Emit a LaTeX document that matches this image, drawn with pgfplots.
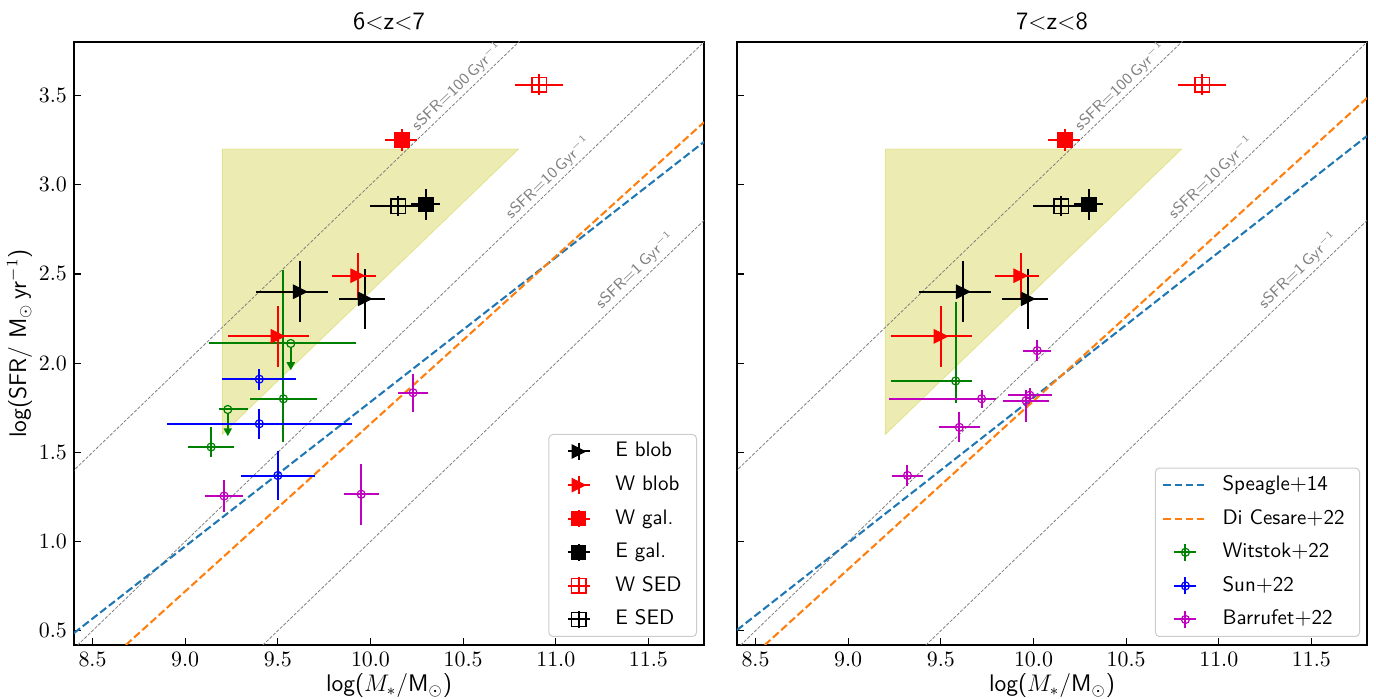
\documentclass[border=0pt]{standalone}
\usepackage{pgfplots}
\usepackage{pgfplotstable}
\pgfplotsset{compat=1.18}
\usetikzlibrary{arrows.meta}

\definecolor{tabblue}{HTML}{1F77B4}
\definecolor{taborange}{HTML}{FF7F0E}
\definecolor{mplg}{rgb}{0,0.5,0}
\definecolor{mplm}{rgb}{0.75,0,0.75}
\definecolor{mply}{rgb}{0.75,0.75,0}

\pgfdeclareplotmark{rtri}{%
  \pgfpathmoveto{\pgfqpoint{\pgfplotmarksize}{0pt}}%
  \pgfpathlineto{\pgfqpoint{-\pgfplotmarksize}{\pgfplotmarksize}}%
  \pgfpathlineto{\pgfqpoint{-\pgfplotmarksize}{-\pgfplotmarksize}}%
  \pgfpathclose
  \pgfusepathqfillstroke}

% ---------------- data ----------------
\pgfplotstableread{
x y exm exp eym eyp
9.62 2.40 0.24 0.15 0.17 0.17
9.97 2.36 0.14 0.11 0.17 0.17
}\Eblob
\pgfplotstableread{
x y exm exp eym eyp
9.93 2.49 0.135 0.10 0.125 0.125
9.50 2.15 0.27 0.17 0.17 0.17
}\Wblob
\pgfplotstableread{
x y exm exp eym eyp
10.17 3.25 0.09 0.08 0.063 0.063
}\Wgal
\pgfplotstableread{
x y exm exp eym eyp
10.30 2.89 0.08 0.075 0.087 0.087
}\Egal
\pgfplotstableread{
x y exm exp eym eyp
10.91 3.56 0.13 0.13 0.058 0.058
}\Wsed
\pgfplotstableread{
x y exm exp eym eyp
10.15 2.88 0.15 0.117 0.056 0.056
}\Esed
% Witstok+22, z=6-7 (detections)
\pgfplotstableread{
x y exm exp eym eyp
9.53 1.80 0.18 0.18 0.24 0.72
9.14 1.53 0.126 0.126 0.054 0.11
}\WitA
% Witstok+22, z=6-7 (upper limits)
\pgfplotstableread{
x y exm exp
9.57 2.11 0.44 0.35
9.23 1.74 0.047 0.108
}\WitU
% arrows of the upper limits (start at the bottom of the circle)
\pgfplotstableread{
x y u v
9.57 2.088 0 -0.128
9.23 1.718 0 -0.128
}\WitUarr
% Witstok+22, z=7-8
\pgfplotstableread{
x y exm exp eym eyp
9.58 1.90 0.35 0.09 0.125 0.44
}\WitB
% Sun+22
\pgfplotstableread{
x y exm exp eym eyp
9.40 1.91 0.20 0.20 0.058 0.058
9.40 1.66 0.50 0.50 0.084 0.084
9.50 1.37 0.20 0.20 0.135 0.135
}\Sun
% Barrufet+22, z=6-7
\pgfplotstableread{
x y exm exp eym eyp
9.21 1.255 0.104 0.104 0.09 0.09
9.95 1.265 0.094 0.094 0.17 0.17
10.23 1.834 0.082 0.082 0.107 0.107
}\BarA
% Barrufet+22, z=7-8
\pgfplotstableread{
x y exm exp eym eyp
10.02 2.07 0.076 0.076 0.058 0.058
9.72 1.80 0.50 0.08 0.05 0.05
9.98 1.82 0.12 0.12 0.04 0.04
9.96 1.79 0.125 0.125 0.12 0.06
9.60 1.64 0.11 0.11 0.084 0.084
9.32 1.37 0.086 0.086 0.058 0.058
}\BarB

\tikzset{slab/.style={rotate=43.9, text=gray, font=\sffamily\fontsize{7.8}{9}\selectfont, inner sep=0pt}}

\pgfplotsset{
  ebleg/.style={legend image code/.code={%
     \path (0pt,0pt) (22pt,0pt);
     \draw[##1, line width=1pt] (5.5pt,0pt) -- (16.5pt,0pt) (11pt,-4.3pt) -- (11pt,4.3pt);
     \draw[##1] plot coordinates {(11pt,0pt)};}},
  lineleg/.style={legend image code/.code={%
     \draw[##1] (0pt,0pt) -- (22pt,0pt);}},
  ebar/.style={only marks, ebleg,
     /pgfplots/error bars/x dir=both, /pgfplots/error bars/x explicit,
     /pgfplots/error bars/y dir=both, /pgfplots/error bars/y explicit,
     /pgfplots/error bars/error mark=none,
     /pgfplots/error bars/error bar style={line width=1pt, solid}},
  lit/.style={ebar, mark=o, mark size=2pt, line width=0.6pt},
  base/.style={width=315pt, height=301.5pt, scale only axis,
    xmin=8.4, xmax=11.8, ymin=0.42, ymax=3.8,
    xtick={8.5,9,9.5,10,10.5,11,11.5},
    ytick={0.5,1,1.5,2,2.5,3,3.5},
    xticklabel style={/pgf/number format/.cd,fixed,fixed zerofill,precision=1},
    yticklabel style={/pgf/number format/.cd,fixed,fixed zerofill,precision=1},
    tick align=inside, tick pos=left, major tick length=3.5pt,
    every tick/.style={black, line width=0.6pt},
    axis line style={line width=0.6pt},
    tick label style={font=\fontsize{10.5}{12}\selectfont},
    label style={font=\sffamily\fontsize{12}{14}\selectfont},
    xlabel style={yshift=3pt},
    ylabel style={yshift=-3.5pt},
    title style={font=\sffamily\fontsize{12.5}{14}\selectfont, yshift=-3.5pt},
    xlabel={log($M_*$/M$_\odot$)},
    legend cell align=left,
    legend style={at={(1,0)}, anchor=south east, xshift=-3.5pt, yshift=4pt,
      draw=black!20, line width=0.5pt, rounded corners=2pt, fill=white,
      inner xsep=3.5pt, inner ysep=3pt, row sep=5.8pt,
      font=\sffamily\fontsize{10.5}{12}\selectfont,
      nodes={inner sep=1pt, text height=7.2pt, text depth=1.8pt},
      /tikz/every odd column/.append style={column sep=6pt}},
  },
  sline/.style={gray, line width=0.4pt, dash pattern=on 1.6pt off 0.8pt, forget plot},
}
\newcommand{\pad}{\hspace*{3pt}}

\begin{document}
\begin{tikzpicture}
% ================= left panel =================
\begin{axis}[base, at={(0,0)}, anchor=south west,
  title={6$<$z$<$7},
  ylabel={log(SFR/ M$_\odot$\,yr$^{-1}$)}]
\addplot[fill=mply, fill opacity=0.3, draw=mply, draw opacity=0.3, forget plot]
  coordinates {(9.2,3.2) (10.8,3.2) (9.2,1.6) (9.2,3.2)};
\addplot[sline] coordinates {(7.4,0.4) (11.8,4.8)};
\addplot[sline] coordinates {(8.4,0.4) (11.8,3.8)};
\addplot[sline] coordinates {(9.4,0.4) (12.8,3.8)};
\node[slab] at (axis cs:10.47,3.55) {sSFR$=$100\,Gyr$^{-1}$};
\node[slab] at (axis cs:10.96,3.04) {sSFR$=$10\,Gyr$^{-1}$};
\node[slab] at (axis cs:11.43,2.52) {sSFR$=$1\,Gyr$^{-1}$};
\addplot[tabblue, line width=1.04pt, dash pattern=on 3.85pt off 1.67pt, forget plot]
  coordinates {(8.4,0.487) (11.8,3.24)};
\addplot[taborange, line width=1.04pt, dash pattern=on 3.85pt off 1.67pt, forget plot]
  coordinates {(8.68,0.42) (11.8,3.35)};
% literature
\addplot[lit, mplg, forget plot] table[x=x,y=y,x error minus=exm,x error plus=exp,y error minus=eym,y error plus=eyp]{\WitA};
\addplot[lit, mplg, forget plot, /pgfplots/error bars/y dir=none] table[x=x,y=y,x error minus=exm,x error plus=exp]{\WitU};
\addplot[mplg, line width=1pt, forget plot,
  quiver={u=\thisrow{u}, v=\thisrow{v}},
  -{Triangle[length=4pt, width=4pt]}] table[x=x,y=y]{\WitUarr};
\addplot[lit, blue, forget plot] table[x=x,y=y,x error minus=exm,x error plus=exp,y error minus=eym,y error plus=eyp]{\Sun};
\addplot[lit, mplm, forget plot] table[x=x,y=y,x error minus=exm,x error plus=exp,y error minus=eym,y error plus=eyp]{\BarA};
% this work
\addplot[ebar, black, mark=rtri, mark size=3.3pt, line width=0.5pt, mark options={fill=black}] table[x=x,y=y,x error minus=exm,x error plus=exp,y error minus=eym,y error plus=eyp]{\Eblob};
\addlegendentry{E blob\pad}
\addplot[ebar, red, mark=rtri, mark size=3.3pt, line width=0.5pt, mark options={fill=red}] table[x=x,y=y,x error minus=exm,x error plus=exp,y error minus=eym,y error plus=eyp]{\Wblob};
\addlegendentry{W blob\pad}
\addplot[ebar, red, mark=square*, mark size=3.6pt, line width=0.5pt, mark options={fill=red}] table[x=x,y=y,x error minus=exm,x error plus=exp,y error minus=eym,y error plus=eyp]{\Wgal};
\addlegendentry{W gal.\pad}
\addplot[ebar, black, mark=square*, mark size=3.6pt, line width=0.5pt, mark options={fill=black}] table[x=x,y=y,x error minus=exm,x error plus=exp,y error minus=eym,y error plus=eyp]{\Egal};
\addlegendentry{E gal.\pad}
\addplot[ebar, red, mark=square, mark size=3.6pt, line width=0.7pt] table[x=x,y=y,x error minus=exm,x error plus=exp,y error minus=eym,y error plus=eyp]{\Wsed};
\addlegendentry{W SED\pad}
\addplot[ebar, black, mark=square, mark size=3.6pt, line width=0.7pt] table[x=x,y=y,x error minus=exm,x error plus=exp,y error minus=eym,y error plus=eyp]{\Esed};
\addlegendentry{E SED\pad}
\end{axis}

% ================= right panel =================
\begin{axis}[base, at={(331.5pt,0)}, anchor=south west,
  title={7$<$z$<$8}, yticklabels={}]
\addplot[fill=mply, fill opacity=0.3, draw=mply, draw opacity=0.3, forget plot]
  coordinates {(9.2,3.2) (10.8,3.2) (9.2,1.6) (9.2,3.2)};
\addplot[sline] coordinates {(7.4,0.4) (11.8,4.8)};
\addplot[sline] coordinates {(8.4,0.4) (11.8,3.8)};
\addplot[sline] coordinates {(9.4,0.4) (12.8,3.8)};
\node[slab] at (axis cs:10.47,3.55) {sSFR$=$100\,Gyr$^{-1}$};
\node[slab] at (axis cs:10.96,3.04) {sSFR$=$10\,Gyr$^{-1}$};
\node[slab] at (axis cs:11.43,2.52) {sSFR$=$1\,Gyr$^{-1}$};
\addplot[lineleg, tabblue, line width=1.04pt, dash pattern=on 3.85pt off 1.67pt]
  coordinates {(8.4,0.504) (11.8,3.273)};
\addlegendentry{Speagle$+$14\pad}
\addplot[lineleg, taborange, line width=1.04pt, dash pattern=on 3.85pt off 1.67pt]
  coordinates {(8.55,0.42) (11.8,3.486)};
\addlegendentry{Di Cesare$+$22\pad}
\addplot[lit, mplg] table[x=x,y=y,x error minus=exm,x error plus=exp,y error minus=eym,y error plus=eyp]{\WitB};
\addlegendentry{Witstok$+$22\pad}
\addlegendimage{lit, blue}
\addlegendentry{Sun$+$22\pad}
\addplot[lit, mplm] table[x=x,y=y,x error minus=exm,x error plus=exp,y error minus=eym,y error plus=eyp]{\BarB};
\addlegendentry{Barrufet$+$22\pad}
% this work
\addplot[ebar, black, mark=rtri, mark size=3.3pt, line width=0.5pt, mark options={fill=black}, forget plot] table[x=x,y=y,x error minus=exm,x error plus=exp,y error minus=eym,y error plus=eyp]{\Eblob};
\addplot[ebar, red, mark=rtri, mark size=3.3pt, line width=0.5pt, mark options={fill=red}, forget plot] table[x=x,y=y,x error minus=exm,x error plus=exp,y error minus=eym,y error plus=eyp]{\Wblob};
\addplot[ebar, red, mark=square*, mark size=3.6pt, line width=0.5pt, mark options={fill=red}, forget plot] table[x=x,y=y,x error minus=exm,x error plus=exp,y error minus=eym,y error plus=eyp]{\Wgal};
\addplot[ebar, black, mark=square*, mark size=3.6pt, line width=0.5pt, mark options={fill=black}, forget plot] table[x=x,y=y,x error minus=exm,x error plus=exp,y error minus=eym,y error plus=eyp]{\Egal};
\addplot[ebar, red, mark=square, mark size=3.6pt, line width=0.7pt, forget plot] table[x=x,y=y,x error minus=exm,x error plus=exp,y error minus=eym,y error plus=eyp]{\Wsed};
\addplot[ebar, black, mark=square, mark size=3.6pt, line width=0.7pt, forget plot] table[x=x,y=y,x error minus=exm,x error plus=exp,y error minus=eym,y error plus=eyp]{\Esed};
\end{axis}
\pgfresetboundingbox
\useasboundingbox (-37pt,-27pt) rectangle (651pt,322.5pt);
\end{tikzpicture}
\end{document}
